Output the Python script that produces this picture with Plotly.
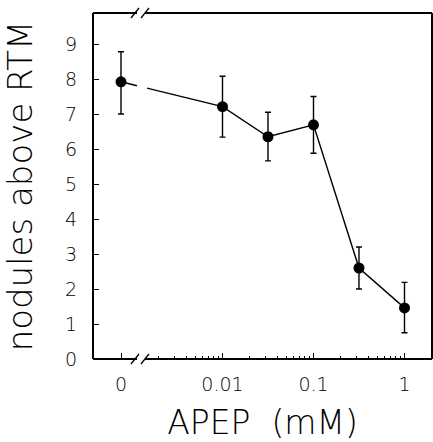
import numpy as np
import plotly.graph_objects as go

# ---- data ----
apep_mM = [0, 0.01, 0.0316, 0.1, 0.316, 1]
nodules = [7.92, 7.21, 6.35, 6.69, 2.60, 1.46]
err_upper = [8.78, 8.08, 7.05, 7.50, 3.20, 2.19]
err_lower = [7.00, 6.34, 5.66, 5.88, 2.00, 0.75]
tick_values = [0, 0.01, 0.1, 1]
tick_labels = ["0", "0.01", "0.1", "1"]
y_ticks = list(range(0, 10))

# ---- layout geometry (pixels) ----
W, H = 433, 442
L, R, T, B = 93, 432, 13, 359
PX_PER_DEC = 91.0
X0 = -2 - (222.5 - L) / PX_PER_DEC
X1 = X0 + (R - L) / PX_PER_DEC
ZERO_POS = X0 + (121 - L) / PX_PER_DEC
Y1 = (B - T) / 35.0

def xpos(v):
    return ZERO_POS if v == 0 else float(np.log10(v))

def px2x(p):
    return X0 + (p - L) / PX_PER_DEC

def pxp(p):   # pixel x -> paper
    return (p - L) / (R - L)

def pyp(p):   # pixel y -> paper
    return (B - p) / (B - T)

xs = [xpos(v) for v in apep_mM]

g1, g2 = px2x(137), px2x(147)
def interp(xq):
    return nodules[0] + (nodules[1] - nodules[0]) * (xq - xs[0]) / (xs[1] - xs[0])
line_x = [xs[0], g1, None, g2] + xs[1:]
line_y = [nodules[0], interp(g1), None, interp(g2)] + nodules[1:]

fig = go.Figure()
fig.add_trace(go.Scatter(x=line_x, y=line_y, mode="lines",
                         line=dict(color="black", width=1.4),
                         hoverinfo="skip", showlegend=False))
fig.add_trace(go.Scatter(
    x=xs, y=nodules, mode="markers",
    marker=dict(color="black", size=11),
    error_y=dict(type="data", symmetric=False,
                 array=[u - m for u, m in zip(err_upper, nodules)],
                 arrayminus=[m - l for m, l in zip(nodules, err_lower)],
                 color="black", thickness=1.4, width=3),
    showlegend=False))

lw = 2
shapes = []
def seg(xa, ya, xb, yb, w=lw):
    shapes.append(dict(type="line", xref="paper", yref="paper",
                       x0=pxp(xa), y0=pyp(ya), x1=pxp(xb), y1=pyp(yb),
                       line=dict(color="black", width=w)))
seg(L, B, L, T)
seg(R, B, R, T)
for yy in (B, T):
    seg(L, yy, 137, yy)
    seg(145, yy, R, yy)
for yy in (B, T):
    for sx in (131, 141):
        seg(sx, yy + 5, sx + 8, yy - 5, w=1.3)

minor_vals = [float(np.log10(m * d)) for d in (0.001, 0.01, 0.1) for m in range(2, 10)
              if np.log10(m * d) > px2x(147)]

font_family = "DejaVu Sans"
fw = 200
fig.update_layout(
    width=W, height=H,
    margin=dict(l=L, r=W - R, t=T, b=H - B, autoexpand=False),
    paper_bgcolor="white", plot_bgcolor="white",
    font=dict(family=font_family, color="black", weight=fw),
    shapes=shapes,
    xaxis=dict(range=[X0, X1], showgrid=False, zeroline=False, showline=False,
               tickvals=[xpos(v) for v in tick_values], ticktext=tick_labels,
               ticks="inside", ticklen=6, tickwidth=1.3, tickcolor="black",
               minor=dict(tickvals=minor_vals, ticks="inside", ticklen=3,
                          tickwidth=1, tickcolor="black"),
               tickfont=dict(size=19, family=font_family, weight=fw),
               ticklabelstandoff=12,
               title=dict(text="APEP  (mM)", font=dict(size=33, family=font_family, weight=fw),
                          standoff=30)),
    yaxis=dict(range=[0, Y1], showgrid=False, zeroline=False, showline=False,
               tickvals=y_ticks, ticks="outside", ticklen=11, tickwidth=1,
               tickcolor="rgba(0,0,0,0)",
               minor=dict(tickvals=y_ticks, ticks="inside", ticklen=6,
                          tickwidth=1.3, tickcolor="black"),
               tickfont=dict(size=19, family=font_family, weight=fw),
               title=dict(text="nodules above RTM", font=dict(size=34, family=font_family, weight=fw),
                          standoff=40)),
)
fig.write_html("out.html", config={"displayModeBar": False},
               post_script="document.body.style.margin='0';")
